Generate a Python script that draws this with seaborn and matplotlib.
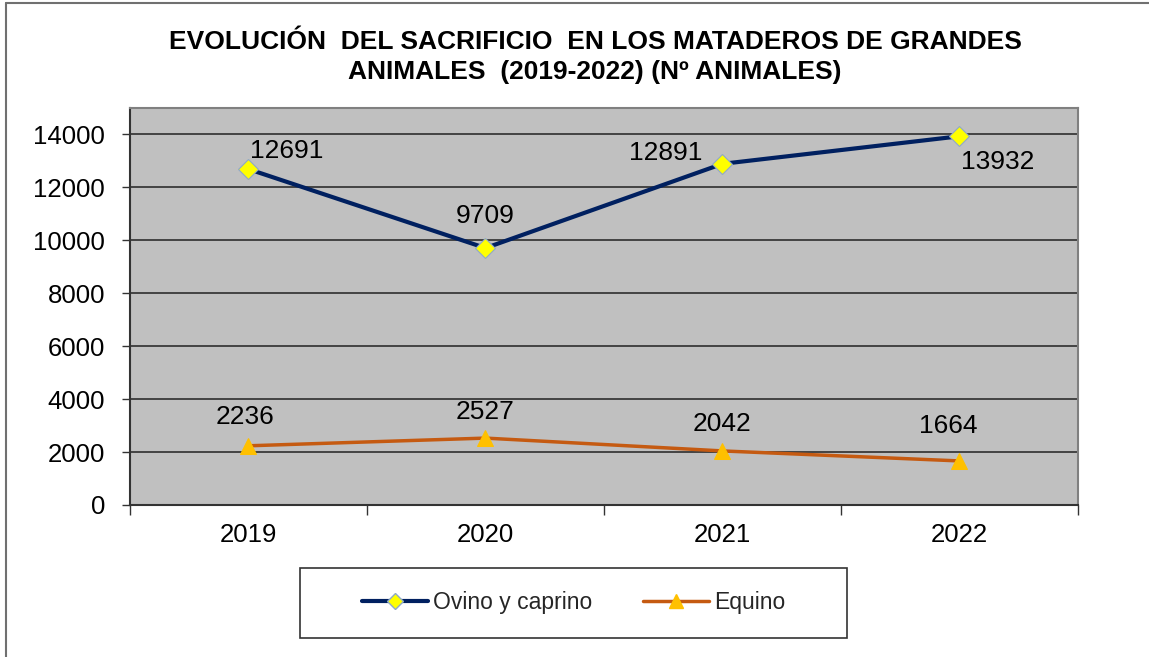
import matplotlib
matplotlib.use("Agg")
import matplotlib.pyplot as plt
import seaborn as sns
import pandas as pd
from matplotlib.lines import Line2D
from matplotlib.patches import Rectangle

years = ["2019", "2020", "2021", "2022"]
ovino = [12691, 9709, 12891, 13932]
equino = [2236, 2527, 2042, 1664]
series_names = ["Ovino y caprino", "Equino"]
title = "EVOLUCIÓN  DEL SACRIFICIO  EN LOS MATADEROS DE GRANDES\nANIMALES  (2019-2022) (Nº ANIMALES)"

sns.set_style("white")
plt.rcParams["font.family"] = ["Liberation Sans", "DejaVu Sans"]

df = pd.DataFrame({"year": years * 2,
                   "value": ovino + equino,
                   "serie": [series_names[0]] * 4 + [series_names[1]] * 4})

fig = plt.figure(figsize=(11.49, 6.57), dpi=100)
ax = fig.add_axes([0.1131, 0.2314, 0.8251, 0.6042])
ax.set_facecolor("#C0C0C0")

navy = "#002060"
orange = "#C55A11"

sns.lineplot(data=df[df.serie == series_names[0]], x="year", y="value", ax=ax,
             color=navy, lw=3, marker="D", markersize=10,
             markerfacecolor="#FFFF00", markeredgecolor="#8EA9C8", markeredgewidth=0.8)
sns.lineplot(data=df[df.serie == series_names[1]], x="year", y="value", ax=ax,
             color=orange, lw=2.5, marker="^", markersize=11,
             markerfacecolor="#FFC000", markeredgecolor="#FFC000")

# data labels
ov_off = [(38, 18), (0, 32), (-57, 11), (38, -26)]
eq_off = [(-3, 29), (0, 26), (0, 27), (-11, 35)]
for i, v in enumerate(ovino):
    ax.annotate(str(v), (i, v), xytext=ov_off[i], textcoords="offset pixels",
                ha="center", va="center", fontsize=19, color="black")
for i, v in enumerate(equino):
    ax.annotate(str(v), (i, v), xytext=eq_off[i], textcoords="offset pixels",
                ha="center", va="center", fontsize=19, color="black")

ax.set_xlim(-0.5, 3.5)
ax.set_ylim(0, 15000)
ax.set_yticks(range(0, 14001, 2000))
ax.set_xticks(range(len(years)))
ax.set_xticklabels(years)
ax.set_xticks([i - 0.5 for i in range(len(years) + 1)], minor=True)
ax.grid(axis="y", color="#222222", lw=1.1)
ax.grid(axis="x", visible=False)
ax.set_axisbelow(True)
ax.tick_params(axis="y", which="major", length=6, width=1, color="#333333",
               direction="out", left=True, pad=12, labelsize=18.5, labelcolor="black")
ax.tick_params(axis="x", which="major", length=0, pad=13, labelsize=18.5, labelcolor="black")
ax.tick_params(axis="x", which="minor", length=7, width=1, color="#333333",
               direction="out", bottom=True)
ax.set_xlabel("")
ax.set_ylabel("")
for s in ax.spines.values():
    s.set_color("#808080")
    s.set_linewidth(1.5)
ax.spines["bottom"].set_color("#333333")
ax.spines["left"].set_color("#333333")
if ax.get_legend():
    ax.get_legend().remove()

fig.text(0.518, 0.913, title, ha="center", va="center", fontsize=19,
         fontweight="bold", linespacing=1.3, color="black")

# legend box
fig.patches.append(Rectangle((300 / 1149, 1 - 638 / 657), 547 / 1149, 70 / 657,
                             transform=fig.transFigure, fill=False,
                             edgecolor="#333333", lw=1.2))
handles = [Line2D([], [], color=navy, lw=3, marker="D", markersize=8,
                  markerfacecolor="#FFFF00", markeredgecolor="#8EA9C8"),
           Line2D([], [], color=orange, lw=2.5, marker="^", markersize=10,
                  markerfacecolor="#FFC000", markeredgecolor="#FFC000")]
fig.legend(handles, series_names, loc="center", bbox_to_anchor=(0.4991, 0.0822),
           ncol=2, frameon=False, fontsize=16.5, handlelength=2.9,
           handletextpad=0.2, columnspacing=2.2)

# outer frame
fig.add_artist(Line2D([6 / 1149, 6 / 1149], [0, 1 - 3 / 657],
                      transform=fig.transFigure, color="#707070", lw=1.5))
fig.add_artist(Line2D([6 / 1149, 1], [1 - 3 / 657, 1 - 3 / 657],
                      transform=fig.transFigure, color="#707070", lw=1.5))

fig.savefig("out.png", dpi=100)
